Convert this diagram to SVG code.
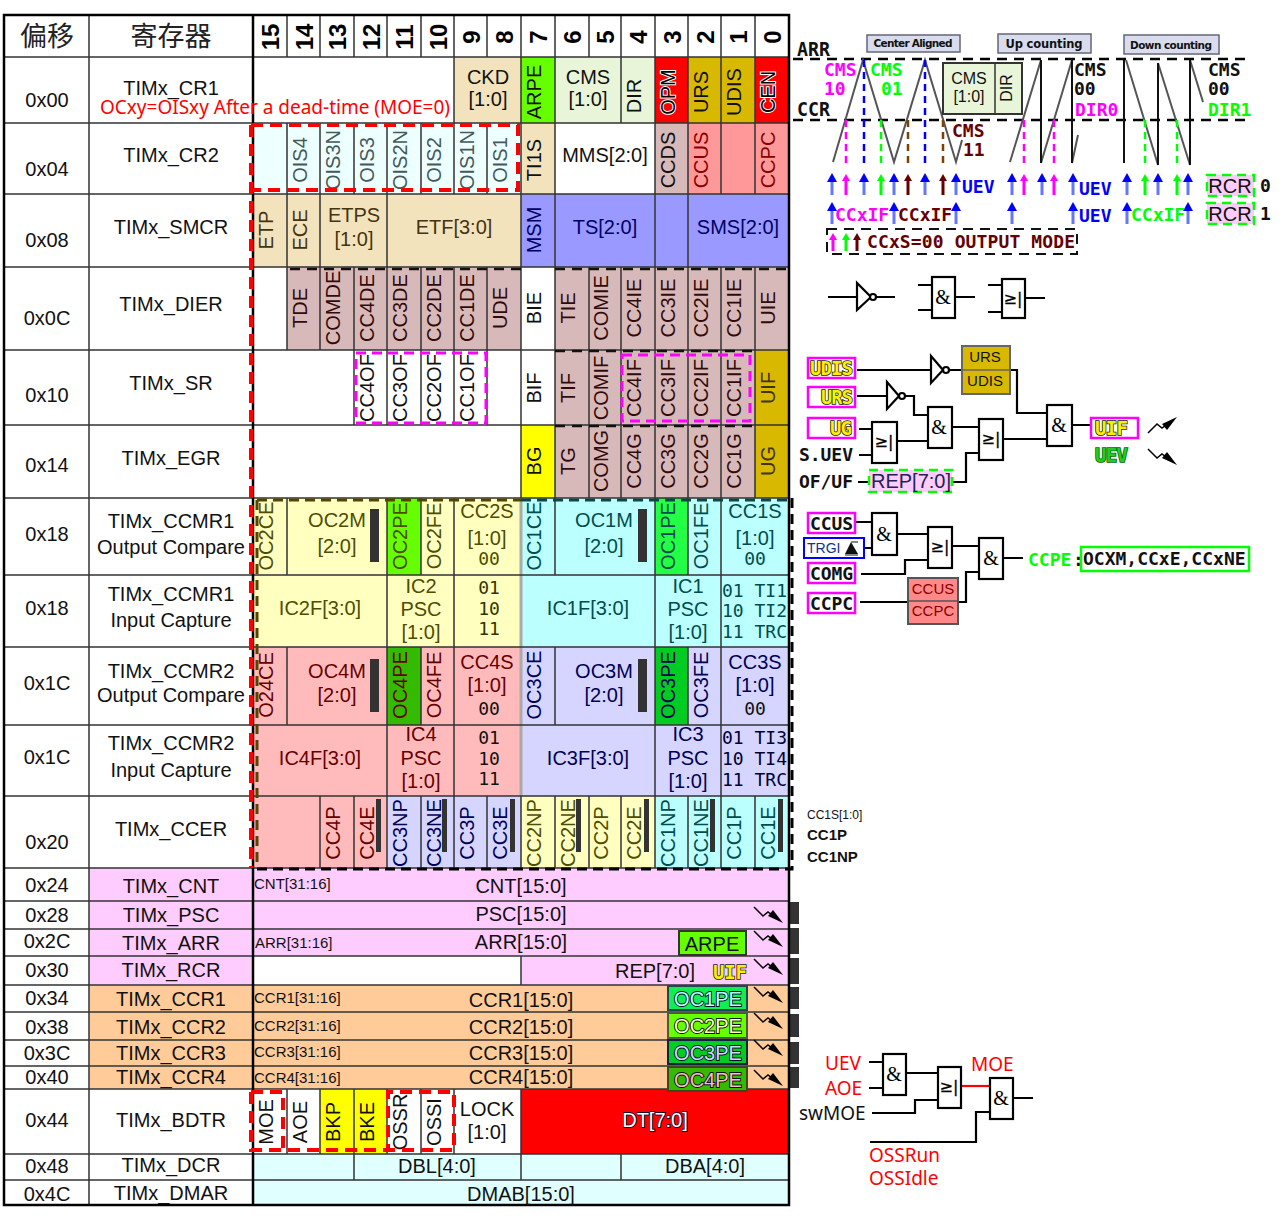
<svg xmlns="http://www.w3.org/2000/svg" width="1284" height="1226" viewBox="0 0 1284 1226">
<style>
text{font-family:"Liberation Sans",Arial,sans-serif;font-size:20px;fill:#111;text-anchor:middle}
.s{font-size:15px;text-anchor:start}
.bit{font-size:24px;font-weight:bold;fill:#000}
.cjk{font-family:"Noto Sans CJK SC",sans-serif;font-size:27px;fill:#222}
.mono{font-family:"DejaVu Sans Mono",monospace;font-size:18px;font-weight:bold;text-anchor:start}
.tall{font-size:20px}
.m0{font-family:"DejaVu Sans Mono",monospace;font-size:18px;text-anchor:start}
.mc{font-family:"DejaVu Sans Mono",monospace;font-size:18px;text-anchor:middle}
.ui{font-family:"Noto Sans",sans-serif;font-size:19px;text-anchor:start;fill:#ff0000}
.red{fill:#f00}.mag{fill:#f0f}.grn{fill:#0f0}.bro{fill:#660000}.blu{fill:#00f}.blk{fill:#111}
.gry{fill:#445a5a}.nav{fill:#000066}.tan{fill:#443311}.ros{fill:#330a0a}.oli{fill:#4d4d00}.tea{fill:#004d4d}.pnk{fill:#660000}.lav{fill:#000055}.dk{fill:#880000}
.yel{font-family:"DejaVu Sans Mono",monospace;font-size:19px;font-weight:bold;fill:#ffee00;stroke:#222;stroke-width:1.6;paint-order:stroke;text-anchor:start}
.pe{stroke:#012;stroke-width:1.8;paint-order:stroke}
.halo{fill:#000;stroke:#fff;stroke-width:2;paint-order:stroke}
.chip{fill:#d8dcec;stroke:#667;stroke-width:1.5}
.ct{font-family:"DejaVu Sans",sans-serif;font-size:10.5px;font-weight:bold;fill:#111}
.grid{fill:none;stroke:#333;stroke-width:1.5}
.frame{fill:none;stroke:#000;stroke-width:2.5}
.bar{fill:#333}
.rd{fill:none;stroke:#f00;stroke-width:4;stroke-dasharray:12 7}
.bd{fill:none;stroke:#000;stroke-width:3;stroke-dasharray:10 6}
.bt{fill:none;stroke:#111;stroke-width:2.5;stroke-dasharray:10 7}
.md{fill:none;stroke:#f0f;stroke-width:3;stroke-dasharray:10 6}
.gd{fill:#ffccff;stroke:#0f0;stroke-width:2.5;stroke-dasharray:9 6}
.mb{fill:none;stroke:#f0f;stroke-width:2.5}
.gate{fill:#fff;stroke:#000;stroke-width:2.2}
.w{fill:none;stroke:#000;stroke-width:2.2}
.wave{fill:none;stroke:#555;stroke-width:2}
.bk{fill:none;stroke:#111;stroke-width:2}
.dv{fill:none;stroke-width:2.5;stroke-dasharray:7 5}
.amp{font-family:"Liberation Serif",serif;font-size:20px;fill:#000}
.ge{font-family:"DejaVu Sans",sans-serif;font-size:16px;fill:#000;stroke:#000;stroke-width:.3}
.ab{stroke:#6677ff;stroke-width:3}.am{stroke:#f0f;stroke-width:3}.ag{stroke:#0f0;stroke-width:3}.ar{stroke:#660000;stroke-width:3}
</style>
<defs>
<marker id="hb" markerUnits="userSpaceOnUse" markerWidth="9" markerHeight="10" refX="0" refY="5" orient="auto"><path d="M0 0L9 5L0 10z" fill="#00f"/></marker>
<marker id="hm" markerUnits="userSpaceOnUse" markerWidth="7" markerHeight="8" refX="0" refY="4" orient="auto"><path d="M0 0L7 4L0 8z" fill="#f0f"/></marker>
<marker id="hg" markerUnits="userSpaceOnUse" markerWidth="7" markerHeight="8" refX="0" refY="4" orient="auto"><path d="M0 0L7 4L0 8z" fill="#0f0"/></marker>
<marker id="hr" markerUnits="userSpaceOnUse" markerWidth="7" markerHeight="8" refX="0" refY="4" orient="auto"><path d="M0 0L7 4L0 8z" fill="#660000"/></marker>
<g id="zz"><path d="M0 0L9 9L14 5L22 11" fill="none" stroke="#000" stroke-width="1.5"/><path d="M29 16L14 9L19 3z" fill="#000"/></g>
</defs>
<rect width="1284" height="1226" fill="#fff"/>

<g id="cell-fills">
<rect x="454" y="57" width="67" height="66" fill="#f3e3bd"/><rect x="521" y="57" width="34" height="66" fill="#66ff00"/><rect x="555" y="57" width="100" height="66" fill="#e9f5d9"/><rect x="655" y="57" width="33" height="66" fill="#f00"/><rect x="688" y="57" width="67" height="66" fill="#d9b900"/><rect x="755" y="57" width="34" height="66" fill="#f00"/>
<rect x="253" y="123" width="268" height="71" fill="#eeffff"/><rect x="521" y="123" width="34" height="71" fill="#f3e3bd"/><rect x="655" y="123" width="33" height="71" fill="#d8b9b9"/><rect x="688" y="123" width="101" height="71" fill="#ff9999"/>
<rect x="253" y="194" width="268" height="73" fill="#f3e3bd"/><rect x="521" y="194" width="268" height="73" fill="#9999ff"/>
<rect x="287" y="267" width="234" height="83" fill="#d8b9b9"/><rect x="555" y="267" width="234" height="83" fill="#d8b9b9"/>
<rect x="555" y="350" width="200" height="75" fill="#d8b9b9"/><rect x="755" y="350" width="34" height="75" fill="#d9b900"/>
<rect x="521" y="425" width="34" height="73" fill="#ff0"/><rect x="555" y="425" width="200" height="73" fill="#d8b9b9"/><rect x="755" y="425" width="34" height="73" fill="#d9b900"/>
<rect x="253" y="498" width="268" height="149" fill="#ffffc0"/><rect x="521" y="498" width="268" height="149" fill="#bbffff"/>
<rect x="387" y="498" width="34" height="77" fill="#66ff00"/><rect x="655" y="498" width="33" height="77" fill="#22ff44"/>
<rect x="253" y="647" width="268" height="149" fill="#ffbbbb"/><rect x="521" y="647" width="268" height="149" fill="#d5d5ff"/>
<rect x="387" y="647" width="34" height="78" fill="#33bb00"/><rect x="655" y="647" width="33" height="78" fill="#00cc22"/>
<rect x="253" y="796" width="134" height="72" fill="#ffbbbb"/><rect x="387" y="796" width="134" height="72" fill="#d5d5ff"/><rect x="521" y="796" width="134" height="72" fill="#ffffc0"/><rect x="655" y="796" width="134" height="72" fill="#bbffff"/>
<rect x="89" y="868" width="700" height="88" fill="#ffccff"/><rect x="253" y="956" width="268" height="29" fill="#fff"/><rect x="521" y="956" width="268" height="29" fill="#ffccff"/><rect x="89" y="956" width="164" height="29" fill="#ffccff"/>
<rect x="89" y="985" width="700" height="104" fill="#ffcc99"/>
<rect x="320" y="1089" width="67" height="65" fill="#ff0"/><rect x="521" y="1089" width="268" height="65" fill="#f00"/>
<rect x="253" y="1154" width="536" height="51" fill="#e0ffff"/>
<rect class="bar" x="790" y="902" width="9" height="22"/><rect class="bar" x="790" y="928" width="9" height="26"/><rect class="bar" x="790" y="958" width="9" height="26"/><rect class="bar" x="790" y="987" width="9" height="22"/><rect class="bar" x="790" y="1014" width="9" height="23"/><rect class="bar" x="790" y="1042" width="9" height="22"/><rect class="bar" x="790" y="1067" width="9" height="21"/>
</g>

<g id="grid">
<path d="M521 500V796" stroke="#aaa" stroke-width="3" fill="none"/>
<path class="grid" d="M4 57H789M4 123H789M4 194H789M4 267H789M4 350H789M4 425H789M4 498H789M4 575H789M4 647H789M4 725H789M4 796H789M4 868H789M4 901H789M4 929H789M4 956H789M4 985H789M4 1012H789M4 1040H789M4 1066H789M4 1089H789M4 1154H789M4 1180H789M89 15V1205"/>
<path class="grid" d="M287 15V57M320 15V57M354 15V57M387 15V57M421 15V57M454 15V57M487 15V57M521 15V57M555 15V57M589 15V57M621 15V57M655 15V57M688 15V57M721 15V57M755 15V57"/>
<path class="grid" d="M454 57V123M521 57V123M555 57V123M621 57V123M655 57V123M688 57V123M721 57V123M755 57V123"/>
<path class="grid" d="M287 123V194M320 123V194M354 123V194M387 123V194M421 123V194M454 123V194M487 123V194M521 123V194M555 123V194M655 123V194M688 123V194M721 123V194M755 123V194"/>
<path class="grid" d="M287 194V267M320 194V267M387 194V267M521 194V267M555 194V267M655 194V267M688 194V267"/>
<path class="grid" d="M287 267V350M320 267V350M354 267V350M387 267V350M421 267V350M454 267V350M487 267V350M521 267V350M555 267V350M589 267V350M621 267V350M655 267V350M688 267V350M721 267V350M755 267V350"/>
<path class="grid" d="M354 350V425M387 350V425M421 350V425M454 350V425M487 350V425M521 350V425M555 350V425M589 350V425M621 350V425M655 350V425M688 350V425M721 350V425M755 350V425"/>
<path class="grid" d="M521 425V498M555 425V498M589 425V498M621 425V498M655 425V498M688 425V498M721 425V498M755 425V498"/>
<path class="grid" d="M287 498V575M387 498V575M421 498V575M454 498V575M555 498V575M655 498V575M688 498V575M721 498V575"/>
<path class="grid" d="M387 575V647M454 575V647M655 575V647M721 575V647"/>
<path class="grid" d="M287 647V725M387 647V725M421 647V725M454 647V725M555 647V725M655 647V725M688 647V725M721 647V725"/>
<path class="grid" d="M387 725V796M454 725V796M655 725V796M721 725V796"/>
<path class="grid" d="M320 796V868M354 796V868M387 796V868M421 796V868M454 796V868M487 796V868M521 796V868M555 796V868M589 796V868M621 796V868M655 796V868M688 796V868M721 796V868M755 796V868"/>
<path class="grid" d="M521 956V985M287 1089V1154M320 1089V1154M354 1089V1154M387 1089V1154M421 1089V1154M454 1089V1154M521 1089V1154M354 1154V1180M521 1154V1180M621 1154V1180"/>
<rect class="frame" x="4" y="15" width="785" height="1190"/>
<path class="frame" d="M253 15V1205"/>
</g>

<g id="col-offset">
<text class="cjk" x="47" y="46">偏移</text>
<text x="47" y="107">0x00</text><text x="47" y="176">0x04</text><text x="47" y="247">0x08</text><text x="47" y="325">0x0C</text><text x="47" y="402">0x10</text><text x="47" y="472">0x14</text><text x="47" y="541">0x18</text><text x="47" y="615">0x18</text><text x="47" y="690">0x1C</text><text x="47" y="764">0x1C</text><text x="47" y="849">0x20</text><text x="47" y="892">0x24</text><text x="47" y="922">0x28</text><text x="47" y="948">0x2C</text><text x="47" y="977">0x30</text><text x="47" y="1005">0x34</text><text x="47" y="1034">0x38</text><text x="47" y="1060">0x3C</text><text x="47" y="1084">0x40</text><text x="47" y="1127">0x44</text><text x="47" y="1173">0x48</text><text x="47" y="1201">0x4C</text>
</g>
<g id="col-register">
<text class="cjk" x="171" y="46">寄存器</text>
<text x="171" y="95">TIMx_CR1</text><text x="171" y="162">TIMx_CR2</text><text x="171" y="234">TIMx_SMCR</text><text x="171" y="311">TIMx_DIER</text><text x="171" y="390">TIMx_SR</text><text x="171" y="465">TIMx_EGR</text>
<text x="171" y="528">TIMx_CCMR1</text><text x="171" y="554">Output Compare</text><text x="171" y="601">TIMx_CCMR1</text><text x="171" y="627">Input Capture</text>
<text x="171" y="678">TIMx_CCMR2</text><text x="171" y="702">Output Compare</text><text x="171" y="750">TIMx_CCMR2</text><text x="171" y="777">Input Capture</text>
<text x="171" y="836">TIMx_CCER</text><text x="171" y="893">TIMx_CNT</text><text x="171" y="922">TIMx_PSC</text><text x="171" y="950">TIMx_ARR</text><text x="171" y="977">TIMx_RCR</text><text x="171" y="1006">TIMx_CCR1</text><text x="171" y="1034">TIMx_CCR2</text><text x="171" y="1060">TIMx_CCR3</text><text x="171" y="1084">TIMx_CCR4</text><text x="171" y="1127">TIMx_BDTR</text><text x="171" y="1172">TIMx_DCR</text><text x="171" y="1200">TIMx_DMAR</text>
</g>

<g id="bit-numbers" transform="translate(0,37)">
<text class="bit" transform="translate(279) rotate(-90)">15</text><text class="bit" transform="translate(313) rotate(-90)">14</text><text class="bit" transform="translate(346) rotate(-90)">13</text><text class="bit" transform="translate(380) rotate(-90)">12</text><text class="bit" transform="translate(413) rotate(-90)">11</text><text class="bit" transform="translate(447) rotate(-90)">10</text><text class="bit" transform="translate(480) rotate(-90)">9</text><text class="bit" transform="translate(513) rotate(-90)">8</text><text class="bit" transform="translate(547) rotate(-90)">7</text><text class="bit" transform="translate(581) rotate(-90)">6</text><text class="bit" transform="translate(614) rotate(-90)">5</text><text class="bit" transform="translate(647) rotate(-90)">4</text><text class="bit" transform="translate(681) rotate(-90)">3</text><text class="bit" transform="translate(714) rotate(-90)">2</text><text class="bit" transform="translate(747) rotate(-90)">1</text><text class="bit" transform="translate(781) rotate(-90)">0</text>
</g>

<g id="row-cr1">
<text x="488" y="84">CKD</text><text x="488" y="106">[1:0]</text><text x="588" y="84" fill="#222">CMS</text><text x="588" y="106">[1:0]</text>
<text transform="translate(541,92) rotate(-90)">ARPE</text><text transform="translate(641,96) rotate(-90)">DIR</text>
<text class="halo" transform="translate(675,92) rotate(-90)">OPM</text><text transform="translate(708,92) rotate(-90)">URS</text><text transform="translate(741,92) rotate(-90)">UDIS</text><text class="halo" transform="translate(775,92) rotate(-90)">CEN</text>
</g>
<g id="row-cr2" transform="translate(-4,160)">
<text class="gry" transform="translate(311) rotate(-90)">OIS4</text><text class="gry" transform="translate(344) rotate(-90)">OIS3N</text><text class="gry" transform="translate(378) rotate(-90)">OIS3</text><text class="gry" transform="translate(411) rotate(-90)">OIS2N</text><text class="gry" transform="translate(445) rotate(-90)">OIS2</text><text class="gry" transform="translate(478) rotate(-90)">OIS1N</text><text class="gry" transform="translate(511) rotate(-90)">OIS1</text>
<text transform="translate(545) rotate(-90)">TI1S</text><text transform="translate(679) rotate(-90)">CCDS</text><text class="dk" transform="translate(712) rotate(-90)">CCUS</text><text class="dk" transform="translate(779) rotate(-90)">CCPC</text>
<text x="609" y="2">MMS[2:0]</text>
</g>
<g id="row-smcr" transform="translate(-4,230)">
<text class="tan" transform="translate(277) rotate(-90)">ETP</text><text class="tan" transform="translate(311) rotate(-90)">ECE</text><text class="nav" transform="translate(545) rotate(-90)">MSM</text>
<text class="tan" x="358" y="-8">ETPS</text><text class="tan" x="358" y="16">[1:0]</text><text class="tan" x="458" y="4">ETF[3:0]</text><text class="nav" x="609" y="4">TS[2:0]</text><text class="nav" x="742" y="4">SMS[2:0]</text>
</g>
<g id="row-dier" transform="translate(-4,308)">
<text class="ros" transform="translate(311) rotate(-90)">TDE</text><text class="ros" transform="translate(344) rotate(-90)">COMDE</text><text class="ros" transform="translate(378) rotate(-90)">CC4DE</text><text class="ros" transform="translate(411) rotate(-90)">CC3DE</text><text class="ros" transform="translate(445) rotate(-90)">CC2DE</text><text class="ros" transform="translate(478) rotate(-90)">CC1DE</text><text class="ros" transform="translate(511) rotate(-90)">UDE</text>
<text transform="translate(545) rotate(-90)">BIE</text>
<text class="ros" transform="translate(579) rotate(-90)">TIE</text><text class="ros" transform="translate(612) rotate(-90)">COMIE</text><text class="ros" transform="translate(645) rotate(-90)">CC4IE</text><text class="ros" transform="translate(679) rotate(-90)">CC3IE</text><text class="ros" transform="translate(712) rotate(-90)">CC2IE</text><text class="ros" transform="translate(745) rotate(-90)">CC1IE</text><text class="ros" transform="translate(779) rotate(-90)">UIE</text>
</g>
<g id="row-sr" transform="translate(-4,388)">
<text transform="translate(378) rotate(-90)">CC4OF</text><text transform="translate(411) rotate(-90)">CC3OF</text><text transform="translate(445) rotate(-90)">CC2OF</text><text transform="translate(478) rotate(-90)">CC1OF</text><text transform="translate(545) rotate(-90)">BIF</text>
<text class="ros" transform="translate(579) rotate(-90)">TIF</text><text class="ros" transform="translate(612) rotate(-90)">COMIF</text><text class="ros" transform="translate(645) rotate(-90)">CC4IF</text><text class="ros" transform="translate(679) rotate(-90)">CC3IF</text><text class="ros" transform="translate(712) rotate(-90)">CC2IF</text><text class="ros" transform="translate(745) rotate(-90)">CC1IF</text><text class="tan" transform="translate(779) rotate(-90)">UIF</text>
</g>
<g id="row-egr" transform="translate(-4,461)">
<text transform="translate(545) rotate(-90)">BG</text><text class="ros" transform="translate(579) rotate(-90)">TG</text><text class="ros" transform="translate(612) rotate(-90)">COMG</text><text class="ros" transform="translate(645) rotate(-90)">CC4G</text><text class="ros" transform="translate(679) rotate(-90)">CC3G</text><text class="ros" transform="translate(712) rotate(-90)">CC2G</text><text class="ros" transform="translate(745) rotate(-90)">CC1G</text><text class="tan" transform="translate(779) rotate(-90)">UG</text>
</g>
<g id="row-ccmr1-oc">
<g transform="translate(-4,536)"><text class="oli" transform="translate(277) rotate(-90)">OC2CE</text><text class="oli" transform="translate(411) rotate(-90)">OC2PE</text><text class="oli" transform="translate(445) rotate(-90)">OC2FE</text><text class="tea" transform="translate(545) rotate(-90)">OC1CE</text><text class="tea" transform="translate(679) rotate(-90)">OC1PE</text><text class="tea" transform="translate(712) rotate(-90)">OC1FE</text></g>
<text class="oli" x="337" y="527">OC2M</text><text class="oli" x="337" y="553">[2:0]</text><rect class="bar" x="370" y="509" width="9" height="53"/>
<text class="oli" x="487" y="518">CC2S</text><text class="oli" x="487" y="545">[1:0]</text><text class="mc" style="fill:#4d4d00" x="489" y="565">00</text>
<text class="tea" x="604" y="527">OC1M</text><text class="tea" x="604" y="553">[2:0]</text><rect class="bar" x="638" y="509" width="9" height="53"/>
<text class="tea" x="755" y="518">CC1S</text><text class="tea" x="755" y="545">[1:0]</text><text class="mc" style="fill:#004d4d" x="755" y="565">00</text>
</g>
<g id="row-ccmr1-ic">
<text class="oli" x="320" y="615">IC2F[3:0]</text><text class="oli" x="421" y="593">IC2</text><text class="oli" x="421" y="616">PSC</text><text class="oli" x="421" y="639">[1:0]</text>
<text class="mc" style="fill:#333300" x="489" y="594">01</text><text class="mc" style="fill:#333300" x="489" y="615">10</text><text class="mc" style="fill:#333300" x="489" y="635">11</text>
<text class="tea" x="588" y="615">IC1F[3:0]</text><text class="tea" x="688" y="593">IC1</text><text class="tea" x="688" y="616">PSC</text><text class="tea" x="688" y="639">[1:0]</text>
<text class="m0" style="fill:#004d4d" x="722" y="597">01 TI1</text><text class="m0" style="fill:#004d4d" x="722" y="617">10 TI2</text><text class="m0" style="fill:#004d4d" x="722" y="638">11 TRC</text>
</g>
<g id="row-ccmr2-oc">
<g transform="translate(-4,685)"><text class="pnk" transform="translate(277) rotate(-90)">O24CE</text><text class="pnk" transform="translate(411) rotate(-90)">OC4PE</text><text class="pnk" transform="translate(445) rotate(-90)">OC4FE</text><text class="lav" transform="translate(545) rotate(-90)">OC3CE</text><text class="lav" transform="translate(679) rotate(-90)">OC3PE</text><text class="lav" transform="translate(712) rotate(-90)">OC3FE</text></g>
<text class="pnk" x="337" y="678">OC4M</text><text class="pnk" x="337" y="702">[2:0]</text><rect class="bar" x="370" y="659" width="9" height="53"/>
<text class="pnk" x="487" y="669">CC4S</text><text class="pnk" x="487" y="692">[1:0]</text><text class="mc" x="489" y="715">00</text>
<text class="lav" x="604" y="678">OC3M</text><text class="lav" x="604" y="702">[2:0]</text><rect class="bar" x="638" y="659" width="9" height="53"/>
<text class="lav" x="755" y="669">CC3S</text><text class="lav" x="755" y="692">[1:0]</text><text class="mc" x="755" y="715">00</text>
</g>
<g id="row-ccmr2-ic">
<text class="pnk" x="320" y="765">IC4F[3:0]</text><text class="pnk" x="421" y="741">IC4</text><text class="pnk" x="421" y="765">PSC</text><text class="pnk" x="421" y="788">[1:0]</text>
<text class="mc" x="489" y="744">01</text><text class="mc" x="489" y="765">10</text><text class="mc" x="489" y="785">11</text>
<text class="lav" x="588" y="765">IC3F[3:0]</text><text class="lav" x="688" y="741">IC3</text><text class="lav" x="688" y="765">PSC</text><text class="lav" x="688" y="788">[1:0]</text>
<text class="m0" style="fill:#000033" x="722" y="744">01 TI3</text><text class="m0" style="fill:#000033" x="722" y="765">10 TI4</text><text class="m0" style="fill:#000033" x="722" y="786">11 TRC</text>
</g>
<g id="row-ccer" transform="translate(-4,833)">
<text class="pnk" transform="translate(344) rotate(-90)">CC4P</text><text class="pnk" transform="translate(378) rotate(-90)">CC4E</text>
<text class="lav" transform="translate(411) rotate(-90)">CC3NP</text><text class="lav" transform="translate(445) rotate(-90)">CC3NE</text><text class="lav" transform="translate(478) rotate(-90)">CC3P</text><text class="lav" transform="translate(511) rotate(-90)">CC3E</text>
<text class="oli" transform="translate(545) rotate(-90)">CC2NP</text><text class="oli" transform="translate(579) rotate(-90)">CC2NE</text><text class="oli" transform="translate(612) rotate(-90)">CC2P</text><text class="oli" transform="translate(645) rotate(-90)">CC2E</text>
<text class="tea" transform="translate(679) rotate(-90)">CC1NP</text><text class="tea" transform="translate(712) rotate(-90)">CC1NE</text><text class="tea" transform="translate(745) rotate(-90)">CC1P</text><text class="tea" transform="translate(779) rotate(-90)">CC1E</text>
<rect class="bar" x="380" y="-34" width="5" height="53"/><rect class="bar" x="446" y="-34" width="5" height="53"/><rect class="bar" x="514" y="-34" width="5" height="53"/><rect class="bar" x="580" y="-34" width="5" height="53"/><rect class="bar" x="648" y="-34" width="5" height="53"/><rect class="bar" x="714" y="-34" width="5" height="53"/><rect class="bar" x="782" y="-34" width="5" height="53"/>
</g>
<g id="row-counters">
<text class="s" x="254" y="889">CNT[31:16]</text><text x="521" y="893">CNT[15:0]</text><text x="521" y="921">PSC[15:0]</text><text class="s" x="255" y="948">ARR[31:16]</text><text x="521" y="949">ARR[15:0]</text>
<text x="655" y="978">REP[7:0]</text><text class="yel" x="713" y="979" textLength="34">UIF</text>
<rect x="679" y="931" width="67" height="24" fill="#66ff00" stroke="#333" stroke-width="2"/><text x="712" y="951">ARPE</text>
<text class="s" x="254" y="1003">CCR1[31:16]</text><text x="521" y="1007">CCR1[15:0]</text><text class="s" x="254" y="1031">CCR2[31:16]</text><text x="521" y="1034">CCR2[15:0]</text><text class="s" x="254" y="1057">CCR3[31:16]</text><text x="521" y="1060">CCR3[15:0]</text><text class="s" x="254" y="1083">CCR4[31:16]</text><text x="521" y="1084">CCR4[15:0]</text>
<rect x="668" y="986" width="79" height="24" fill="#11ee55" stroke="#245" stroke-width="2"/><text class="pe" style="fill:#bbffff" x="708" y="1006">OC1PE</text>
<rect x="668" y="1013" width="79" height="25" fill="#66ff00" stroke="#554" stroke-width="2"/><text class="pe" style="fill:#ffffc0" x="708" y="1033">OC2PE</text>
<rect x="668" y="1040" width="79" height="24" fill="#00cc22" stroke="#124" stroke-width="2"/><text class="pe" style="fill:#d5d5ff" x="708" y="1060">OC3PE</text>
<rect x="668" y="1067" width="79" height="24" fill="#33bb00" stroke="#442" stroke-width="2"/><text class="pe" style="fill:#ffbbbb" x="708" y="1087">OC4PE</text>
<use href="#zz" x="754" y="907"/><use href="#zz" x="754" y="931"/><use href="#zz" x="754" y="959"/><use href="#zz" x="754" y="987"/><use href="#zz" x="754" y="1013"/><use href="#zz" x="754" y="1040"/><use href="#zz" x="754" y="1070"/>
</g>
<g id="row-bdtr" transform="translate(-4,1122)">
<text transform="translate(277) rotate(-90)">MOE</text><text transform="translate(311) rotate(-90)">AOE</text><text transform="translate(344) rotate(-90)">BKP</text><text transform="translate(378) rotate(-90)">BKE</text><text transform="translate(411) rotate(-90)">OSSR</text><text transform="translate(445) rotate(-90)">OSSI</text>
<text x="491" y="-6">LOCK</text><text x="491" y="17">[1:0]</text><text style="fill:#fff;stroke:#113;stroke-width:1.8;paint-order:stroke" x="659" y="5">DT[7:0]</text>
</g>
<g id="row-dma">
<text x="437" y="1173">DBL[4:0]</text><text x="705" y="1173">DBA[4:0]</text><text x="521" y="1201">DMAB[15:0]</text>
</g>
<g id="overlay-note">
<text class="ui" x="100" y="114" textLength="350" lengthAdjust="spacingAndGlyphs">OCxy=OISxy After a dead-time (MOE=0)</text>
</g>
<g id="dashed-frames">
<path class="bt" d="M290 269H521M555 269H789M555 351H755M555 426H755"/>
<path class="rd" d="M251 125V868M251 125H518V190H251"/>
<path class="rd" d="M251 1092H283V1150M251 1092V1150H454V1092H388V1150"/>
<rect class="md" x="356" y="353" width="130" height="70"/><rect class="md" x="622" y="355" width="128" height="66"/>
<path class="bd" style="stroke:#554400" d="M257 500H521M257 500V868"/>
<path class="bd" style="stroke:#114444" d="M521 500H789"/>
<path class="bd" d="M257 869H792V498"/>
</g>

<g id="counter-modes">
<text class="mono tall" x="797" y="56" textLength="33" lengthAdjust="spacingAndGlyphs">ARR</text><text class="mono tall" x="797" y="116" textLength="33" lengthAdjust="spacingAndGlyphs">CCR</text>
<g id="mode-center"><rect class="chip" x="867" y="35" width="93" height="17"/><text class="ct" x="913" y="47" textLength="79">Center Aligned</text></g>
<g id="mode-up"><rect class="chip" x="998" y="34" width="93" height="19"/><text class="ct" x="1044" y="48" textLength="77" style="font-size:11.5px">Up counting</text></g>
<g id="mode-down"><rect class="chip" x="1124" y="35" width="95" height="19"/><text class="ct" x="1171" y="49" textLength="82">Down counting</text></g>
<path class="bt" style="stroke:#000" d="M793 59H1245M793 120H1245"/>
<path class="wave" d="M833 162L863 60L894 162L925 60L956 162L962 140"/>
<path class="wave" d="M1010 162L1041 60M1041 163L1072 60M1072 163L1078 135"/>
<path class="wave" d="M1126 60L1158 165M1158 63L1190 165M1190 60L1203 102"/>
<path class="bk" d="M1041 60V163M1072 60V163M1124 60V163M1158 63V165M1190 60V165"/>
<path class="dv" stroke="#00f" d="M864 60V168M925 60V168"/>
<path class="dv" stroke="#f0f" d="M846 120V168M1024 120V168M1054 120V168"/>
<path class="dv" stroke="#0f0" d="M881 120V168M1145 120V168M1177 120V168"/>
<path class="dv" stroke="#804000" d="M908 120V168M943 120V168"/>
<rect x="943" y="63" width="79" height="51" fill="#e9f5d9" stroke="#333" stroke-width="2"/><path d="M995 63V114" stroke="#333" stroke-width="1.5"/>
<text style="font-size:16px" x="969" y="84">CMS</text><text style="font-size:16px" x="969" y="102">[1:0]</text><text style="font-size:16px" transform="translate(1012,88) rotate(-90)">DIR</text>
<text class="mono mag" x="824" y="76">CMS</text><text class="mono mag" x="824" y="95">10</text><text class="mono grn" x="870" y="76">CMS</text><text class="mono grn" x="881" y="95">01</text>
<text class="mono blk" x="1074" y="76">CMS</text><text class="mono blk" x="1074" y="95">00</text><text class="mono mag" x="1075" y="116">DIR0</text>
<text class="mono blk" x="1208" y="76">CMS</text><text class="mono blk" x="1208" y="95">00</text><text class="mono grn" x="1208" y="116">DIR1</text>
<text class="mono bro" x="952" y="137">CMS</text><text class="mono bro" x="963" y="156">11</text>
<g>
<line class="ab" x1="832" y1="195" x2="832" y2="182" marker-end="url(#hb)"/><line class="am" x1="846" y1="195" x2="846" y2="181" marker-end="url(#hm)"/><line class="ab" x1="864" y1="195" x2="864" y2="182" marker-end="url(#hb)"/><line class="ag" x1="881" y1="195" x2="881" y2="181" marker-end="url(#hg)"/><line class="ab" x1="894" y1="195" x2="894" y2="182" marker-end="url(#hb)"/><line class="ar" x1="908" y1="195" x2="908" y2="181" marker-end="url(#hr)"/><line class="ab" x1="925" y1="195" x2="925" y2="182" marker-end="url(#hb)"/><line class="ar" x1="943" y1="195" x2="943" y2="181" marker-end="url(#hr)"/><line class="ab" x1="956" y1="195" x2="956" y2="182" marker-end="url(#hb)"/>
<line class="ab" x1="1012" y1="195" x2="1012" y2="182" marker-end="url(#hb)"/><line class="am" x1="1024" y1="195" x2="1024" y2="181" marker-end="url(#hm)"/><line class="ab" x1="1042" y1="195" x2="1042" y2="182" marker-end="url(#hb)"/><line class="am" x1="1054" y1="195" x2="1054" y2="181" marker-end="url(#hm)"/><line class="ab" x1="1073" y1="195" x2="1073" y2="182" marker-end="url(#hb)"/>
<line class="ab" x1="1127" y1="195" x2="1127" y2="182" marker-end="url(#hb)"/><line class="ag" x1="1145" y1="195" x2="1145" y2="181" marker-end="url(#hg)"/><line class="ab" x1="1158" y1="195" x2="1158" y2="182" marker-end="url(#hb)"/><line class="ag" x1="1177" y1="195" x2="1177" y2="181" marker-end="url(#hg)"/><line class="ab" x1="1188" y1="195" x2="1188" y2="182" marker-end="url(#hb)"/>
<line class="ab" x1="832" y1="224" x2="832" y2="211" marker-end="url(#hb)"/><line class="ab" x1="894" y1="224" x2="894" y2="211" marker-end="url(#hb)"/><line class="ab" x1="956" y1="224" x2="956" y2="211" marker-end="url(#hb)"/><line class="ab" x1="1012" y1="224" x2="1012" y2="211" marker-end="url(#hb)"/><line class="ab" x1="1073" y1="224" x2="1073" y2="211" marker-end="url(#hb)"/><line class="ab" x1="1127" y1="224" x2="1127" y2="211" marker-end="url(#hb)"/><line class="ab" x1="1188" y1="224" x2="1188" y2="211" marker-end="url(#hb)"/>
<line class="am" x1="833" y1="251" x2="833" y2="240" marker-end="url(#hm)"/><line class="ag" x1="846" y1="251" x2="846" y2="240" marker-end="url(#hg)"/><line class="ar" x1="857" y1="251" x2="857" y2="240" marker-end="url(#hr)"/>
</g>
<text class="mono blu" x="962" y="193">UEV</text><text class="mono blu" x="1079" y="195">UEV</text><text class="mono blu" x="1079" y="222">UEV</text>
<text class="mono mag" x="835" y="221">CCxIF</text><text class="mono bro" x="898" y="221">CCxIF</text><text class="mono grn" x="1131" y="221">CCxIF</text>
<rect class="gd" x="1207" y="175" width="47" height="21"/><text x="1230" y="193">RCR</text><rect class="gd" x="1207" y="203" width="47" height="21"/><text x="1230" y="221">RCR</text>
<text class="mono blk" x="1260" y="192">0</text><text class="mono blk" x="1260" y="220">1</text>
<rect class="bt" style="stroke-width:2" x="827" y="229" width="250" height="25"/><text class="mono bro" x="867" y="248" textLength="208">CCxS=00 OUTPUT MODE</text>
</g>

<g id="legend-not"><path class="gate" d="M857 283V310L871 297z"/><circle class="gate" cx="873" cy="297" r="3"/></g>
<g id="legend-and"><rect class="gate" x="932" y="277" width="23" height="41"/><text class="amp" x="943" y="304">&amp;</text></g>
<g id="legend-or"><rect class="gate" x="1002" y="279" width="23" height="39"/><text class="ge" x="1013" y="304">≥|</text></g>

<g id="connectors">
<path class="w" d="M828 297H857M876 297H895M918 285H932M918 310H932M955 297H975M988 285H1002M988 312H1002M1025 298H1045"/>
<path class="w" d="M857 370H931M949 370H962M1010 370H1017V413H1047"/>
<path class="w" d="M857 396H887M905 396H914V415H928M859 429H872M859 455H872M897 441H928M952 427H979"/>
<path class="w" d="M858 482H868M953 482H966V453H979M1003 439H1047M1072 425H1090"/>
<path class="w" d="M855 522H872M864 548H872M897 534H928M861 574H905V560H928M952 546H979M860 602H908M958 602H966V572H979M1003 558H1023"/>
<path class="w" d="M869 1062H883M869 1088H883M906 1073H938M872 1113H915V1100H938M1013 1098H1033M870 1142H976V1112H990"/>
<path d="M961 1086H990" fill="none" stroke="#f00" stroke-width="2.2"/>
</g>

<g id="not-udis"><path class="gate" d="M931 356V383L943 370z"/><circle class="gate" cx="946" cy="370" r="3"/></g>
<g id="not-urs"><path class="gate" d="M887 382V409L899 396z"/><circle class="gate" cx="902" cy="396" r="3"/></g>
<g id="box-urs-udis"><rect x="962" y="346" width="48" height="48" fill="#d9b900" stroke="#666" stroke-width="2"/><path d="M962 370H1010" stroke="#666" stroke-width="1.5"/><text style="font-size:15px" x="985" y="362">URS</text><text style="font-size:15px" x="985" y="386">UDIS</text></g>
<g id="or-ug"><rect class="gate" x="872" y="422" width="25" height="41"/><text class="ge" x="884" y="447">≥|</text></g>
<g id="and-a"><rect class="gate" x="928" y="407" width="24" height="41"/><text class="amp" x="939" y="434">&amp;</text></g>
<g id="or-a"><rect class="gate" x="979" y="419" width="24" height="41"/><text class="ge" x="991" y="444">≥|</text></g>
<g id="and-uif"><rect class="gate" x="1047" y="405" width="25" height="41"/><text class="amp" x="1059" y="432">&amp;</text></g>
<g id="lbl-udis"><rect class="mb" x="808" y="358" width="47" height="20"/><text class="yel" x="810" y="375" textLength="43">UDIS</text></g>
<g id="lbl-urs"><rect class="mb" x="808" y="387" width="47" height="20"/><text class="yel" x="821" y="404" textLength="32">URS</text></g>
<g id="lbl-ug"><rect class="mb" x="808" y="418" width="47" height="20"/><text class="yel" x="830" y="435" textLength="22">UG</text></g>
<text class="mono" id="lbl-suev" x="799" y="461" textLength="54">S.UEV</text>
<text class="mono" id="lbl-ofuf" x="799" y="488" textLength="54">OF/UF</text>
<g id="lbl-rep"><rect class="gd" x="869" y="470" width="83" height="22"/><text x="911" y="488" style="fill:#222255">REP[7:0]</text></g>
<g id="lbl-uif"><rect class="mb" x="1091" y="418" width="47" height="20"/><text class="yel" x="1095" y="435" textLength="33">UIF</text></g>
<text id="lbl-uev" class="yel" x="1095" y="462" textLength="33" style="fill:#22cc22;stroke:#060">UEV</text>
<use href="#zz" transform="translate(1148,433) scale(1,-1)"/><use href="#zz" x="1148" y="449"/>

<g id="and-ccus"><rect class="gate" x="872" y="513" width="25" height="42"/><text class="amp" x="884" y="541">&amp;</text></g>
<g id="or-comg"><rect class="gate" x="928" y="527" width="24" height="41"/><text class="ge" x="940" y="552">≥|</text></g>
<g id="and-ccpe"><rect class="gate" x="979" y="538" width="24" height="41"/><text class="amp" x="991" y="565">&amp;</text></g>
<g id="box-ccus-ccpc"><rect x="908" y="578" width="50" height="46" fill="#ff8888" stroke="#555" stroke-width="2"/><path d="M908 601H958" stroke="#555" stroke-width="1.5"/><text class="dk" style="font-size:15px" x="933" y="594">CCUS</text><text class="dk" style="font-size:15px" x="933" y="616">CCPC</text></g>
<g id="lbl-ccus"><rect class="mb" x="808" y="513" width="47" height="20"/><text class="mono" x="810" y="530" textLength="43">CCUS</text></g>
<g id="lbl-trgi"><rect x="804" y="538" width="60" height="20" fill="#fff" stroke="#00f" stroke-width="2"/><text x="807" y="553" style="font-size:14px;text-anchor:start;fill:#113388">TRGI</text><path d="M845 554L851 542L858 554z" fill="#111"/><path d="M845 555H858M851 542H858" stroke="#111" fill="none"/></g>
<g id="lbl-comg"><rect class="mb" x="808" y="563" width="47" height="20"/><text class="mono" x="810" y="580" textLength="43">COMG</text></g>
<g id="lbl-ccpc"><rect class="mb" x="808" y="593" width="47" height="20"/><text class="mono" x="810" y="610" textLength="43">CCPC</text></g>
<text class="mono grn" id="lbl-ccpe" x="1028" y="566">CCPE</text><text class="mono" x="1073" y="566">:</text>
<g id="lbl-ccxm"><rect x="1081" y="547" width="168" height="24" fill="none" stroke="#0f0" stroke-width="2.5"/><text class="mono" x="1083" y="565">OCXM,CCxE,CCxNE</text></g>
<g id="lbl-cc1s">
<text style="font-size:12px;text-anchor:start" x="807" y="819">CC1S[1:0]</text><text style="font-size:15px;font-weight:bold;text-anchor:start" x="807" y="840">CC1P</text><text style="font-size:15px;font-weight:bold;text-anchor:start" x="807" y="862">CC1NP</text>
</g>

<g id="and-moe-in"><rect class="gate" x="883" y="1054" width="23" height="41"/><text class="amp" x="894" y="1081">&amp;</text></g>
<g id="or-moe"><rect class="gate" x="938" y="1067" width="23" height="41"/><text class="ge" x="949" y="1092">≥|</text></g>
<g id="and-moe-out"><rect class="gate" x="990" y="1078" width="23" height="41"/><text class="amp" x="1001" y="1105">&amp;</text></g>
<text class="ui" x="825" y="1070">UEV</text><text class="ui" x="825" y="1095">AOE</text><text class="ui" style="fill:#111" x="799" y="1120">swMOE</text><text class="ui" x="971" y="1071">MOE</text><text class="ui" x="869" y="1162">OSSRun</text><text class="ui" x="869" y="1185">OSSIdle</text>
</svg>
